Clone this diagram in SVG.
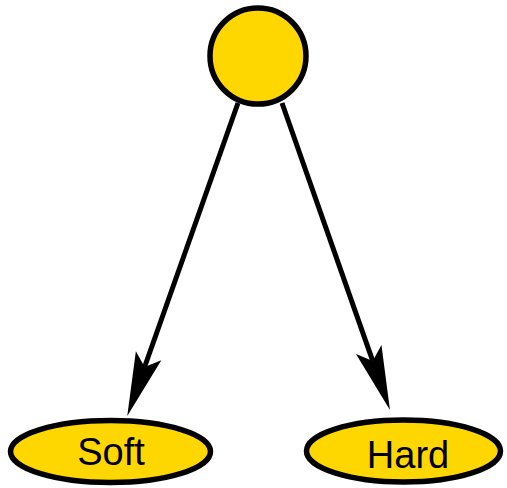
<svg xmlns="http://www.w3.org/2000/svg" width="507" height="488" viewBox="0 0 507 488">
<style>
.node{fill:#ffd700;stroke:#000;stroke-width:5.5}
.edge{fill:none;stroke:#000;stroke-width:5}
.lbl{font-family:"Liberation Sans",Arial,sans-serif;font-size:38px;fill:#000;text-anchor:middle}
</style>
<defs>
<marker id="arr" markerUnits="userSpaceOnUse" viewBox="-1 -15 68 30" markerWidth="68" markerHeight="30" refX="12" refY="0" orient="auto" overflow="visible">
<path d="M64,0 L0,-13.5 L12,0 L0,13.5 Z" fill="#000"/>
</marker>
</defs>
<g id="connectors">
<path class="edge" d="M238,103 L144.6,367" marker-end="url(#arr)"/>
<path class="edge" d="M282,103 L372.7,360.9" marker-end="url(#arr)"/>
</g>
<g id="root">
<circle class="node" cx="258" cy="56" r="48"/>
</g>
<g id="soft">
<ellipse class="node" cx="110.5" cy="451.5" rx="100" ry="31"/>
<text class="lbl" x="111" y="465">Soft</text>
</g>
<g id="hard">
<ellipse class="node" cx="403.5" cy="451" rx="97" ry="31"/>
<text class="lbl" x="408" y="467.5">Hard</text>
</g>
</svg>
